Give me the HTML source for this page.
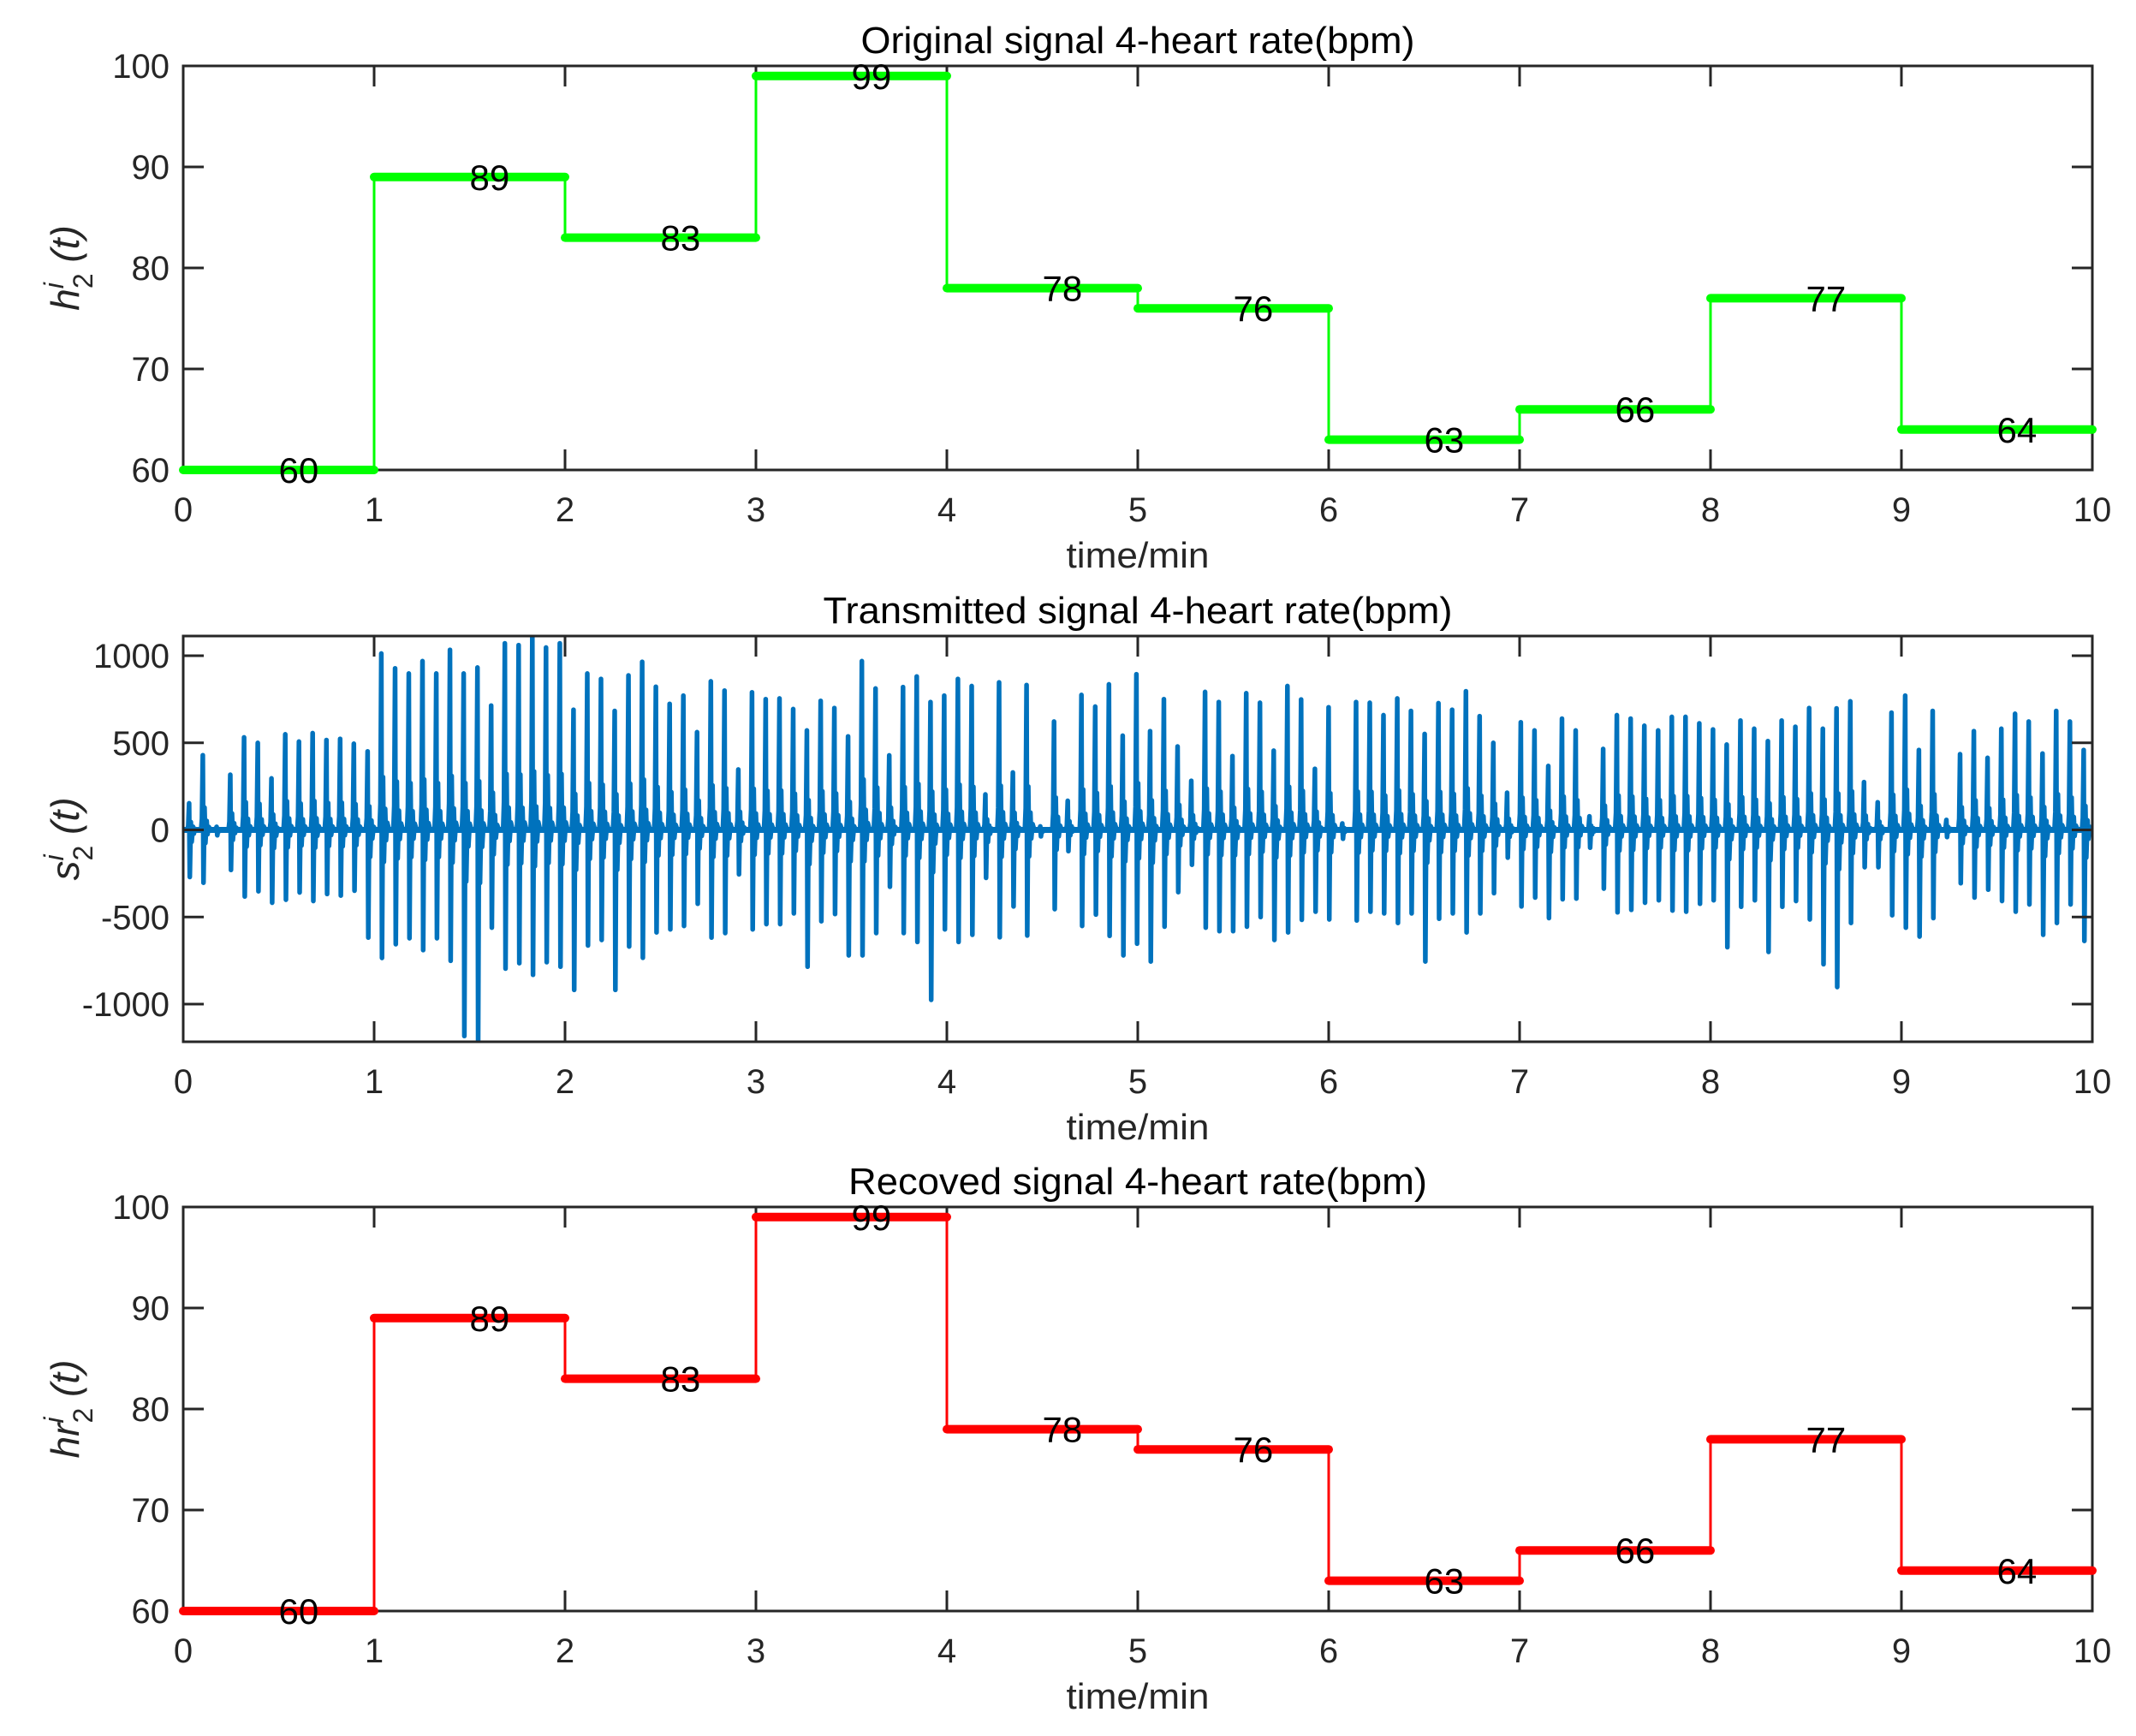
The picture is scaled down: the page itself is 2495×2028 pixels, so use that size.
<!DOCTYPE html>
<html><head><meta charset="utf-8"><style>
html,body{margin:0;padding:0;background:#fff;}
svg{display:block;font-family:"Liberation Sans",Arial,sans-serif;}
</style></head>
<body>
<svg id="fig" xmlns="http://www.w3.org/2000/svg" width="2495" height="2028" viewBox="0 0 2495 2028">
<rect x="0" y="0" width="2495" height="2028" fill="#fff"/>
</svg>
<script>
// ---- data ----
const stepMinutes = [0,1,2,3,4,5,6,7,8,9];
const heartRates = [60,89,83,99,78,76,63,66,77,64];
const recoveredRates = [60,89,83,99,78,76,63,66,77,64];
const xTicks = [0,1,2,3,4,5,6,7,8,9,10];
const hrTicks = [60,70,80,90,100];
const sigTicks = [-1000,-500,0,500,1000];
const beatStart = 0.031;
const beatInterval = 0.07191;
const beatPos = [153,429,18,317,531,500,296,549,507,556,516,523,495,451,1013,928,
898,969,898,1034,898,932,714,1071,1061,1122,1047,1071,690,898,867,683,887,965,822,724,771,561,853,800,347,790,751,755,694,571,741,700,537,969,812,428,820,881,734,771,867,826,204,847,330,832,20,622,
167,775,708,836,541,894,567,751,479,282,792,734,424,785,730,455,826,749,351,704,37,734,730,659,755,683,551,728,690,796,653,500,214,618,571,367,639,571,78,465,659,639,598,571,649,649,612,577,490,628,581,510,628,592,700,581,698,738,275,159,673,771,459,683,57,435,567,414,581,667,622,439,683,622,459];
const beatNeg = [-270,-303,-31,-230,-382,-352,-418,-401,-359,-408,-368,-377,-349,-618,-735,-656,
-622,-690,-622,-751,-1183,-1220,-561,-796,-765,-832,-759,-785,-918,-663,-632,-918,-669,-734,-588,-571,-551,-424,-618,-592,-255,-571,-541,-541,-479,-785,-524,-483,-720,-720,-592,-326,-592,-643,-975,-571,-643,-602,-275,-616,-439,-606,-37,-455,
-122,-551,-486,-608,-720,-653,-755,-555,-357,-200,-561,-581,-581,-555,-500,-632,-588,-516,-469,-514,-51,-520,-469,-479,-534,-479,-755,-510,-479,-588,-479,-363,-159,-439,-388,-506,-398,-394,-102,-337,-473,-459,-418,-404,-463,-469,-424,-404,-673,-441,-404,-700,-441,-408,-514,-771,-902,-534,-214,-214,-490,-561,-612,-506,-41,-306,-388,-343,-408,-469,-428,-602,-534,-428,-637];

// ---- layout ----
const NS = "http://www.w3.org/2000/svg";
const svg = document.getElementById('fig');
const L = 214, R = 2444;
const AX = "#262626";
function el(tag, attrs, parent){
  const e = document.createElementNS(NS, tag);
  for (const k in attrs) e.setAttribute(k, attrs[k]);
  (parent||svg).appendChild(e);
  return e;
}
function xScale(t){ return L + (t/10)*(R-L); }

function makeAxes(name, top, bot, ymin, ymax, yt, title, titleLen, ylabelParts){
  const g = el('g', {});
  
  
  const y = v => bot - (v-ymin)/(ymax-ymin)*(bot-top);
  return {g, y, top, bot, yt, title, titleLen, ylabelParts};
}

function drawFrame(ax){
  const {g, y, top, bot} = ax;
  const frame = el('rect', {x:L, y:top, width:R-L, height:bot-top, fill:'none', stroke:AX, 'stroke-width':3}, g);
  
  
  xTicks.forEach(t=>{
    const x = xScale(t);
    el('line',{x1:x,y1:bot,x2:x,y2:bot-24,stroke:AX,'stroke-width':3},g);
    el('line',{x1:x,y1:top,x2:x,y2:top+24,stroke:AX,'stroke-width':3},g);
    const tx = el('text',{x:x,y:bot+60,'font-size':40,fill:AX,'text-anchor':'middle'},g);
    tx.textContent = String(t);
    
    
  });
  ax.yt.forEach(v=>{
    const yy = y(v);
    el('line',{x1:L,y1:yy,x2:L+24,y2:yy,stroke:AX,'stroke-width':3},g);
    el('line',{x1:R,y1:yy,x2:R-24,y2:yy,stroke:AX,'stroke-width':3},g);
    const tx = el('text',{x:L-16,y:yy+14,'font-size':40,fill:AX,'text-anchor':'end'},g);
    tx.textContent = String(v);
    
    
  });
  const ti = el('text',{x:1329,y:top-15,'font-size':44,fill:'#000','text-anchor':'middle',textLength:ax.titleLen,lengthAdjust:'spacingAndGlyphs'},g);
  ti.textContent = ax.title;
  
  
  const xl = el('text',{x:1329,y:bot+114,'font-size':42,fill:AX,'text-anchor':'middle',textLength:167,lengthAdjust:'spacingAndGlyphs'},g);
  xl.textContent = 'time/min';
  
  
  const cy = (top+bot)/2;
  const yl = el('text',{x:0,y:0,'font-size':46,fill:AX,'text-anchor':'middle',transform:`translate(92,${cy}) rotate(-90)`},g);
  
  
  const p = ax.ylabelParts;
  const a = el('tspan',{'font-style':'italic'},yl); a.textContent = p;
  const b = el('tspan',{'font-style':'italic','font-size':32,dy:-18}, yl); b.textContent = 'i';
  const c = el('tspan',{'font-size':32,dx:-7,dy:34}, yl); c.textContent = '2';
  const d = el('tspan',{dy:-16,'font-style':'italic'}, yl); d.textContent = ' (t)';
}

function drawSteps(ax, vals, color, name){
  const {g, y} = ax;
  const sg = el('g',{},g);
  
  
  for (let i=1;i<stepMinutes.length;i++){
    const vl = el('line',{x1:xScale(stepMinutes[i]),x2:xScale(stepMinutes[i]),y1:y(vals[i-1]),y2:y(vals[i]),stroke:color,'stroke-width':3},sg);
    
    
  }
  for (let i=0;i<stepMinutes.length;i++){
    const x1 = xScale(stepMinutes[i]), x2 = xScale(stepMinutes[i]+1);
    const hl = el('line',{x1:x1,x2:x2,y1:y(vals[i]),y2:y(vals[i]),stroke:color,'stroke-width':10,'stroke-linecap':'round'},sg);
    
    
  }
  for (let i=0;i<stepMinutes.length;i++){
    const lb = el('text',{x:xScale(stepMinutes[i]+0.5),y:y(vals[i])+15,'font-size':42,fill:'#000'},sg);
    lb.textContent = String(vals[i]);
    
    
  }
}

// top
const ax1 = makeAxes('original-signal-plot', 77, 549, 60, 100, hrTicks, 'Original signal 4-heart rate(bpm)', 647, 'h');
drawFrame(ax1);
drawSteps(ax1, heartRates, '#00ff00', 'original-heart-rate-line');

// middle
const ax2 = makeAxes('transmitted-signal-plot', 743, 1217, -1216, 1113, sigTicks, 'Transmitted signal 4-heart rate(bpm)', 735, 's');
(function(){
  const {g, y} = ax2;
  const px = 1/223;
  let pts = [[0,0]];
  for (let i=0;i<beatPos.length;i++){
    const t = beatStart + i*beatInterval;
    const p = beatPos[i], n = beatNeg[i];
    pts.push([t-2*px,0],[t-1*px,p*0.15],[t,p],[t+0.8*px,n],[t+2*px,p*0.3],[t+3*px,n*0.25],[t+4.5*px,p*0.12],[t+5.5*px,n*0.08],[t+7*px,p*0.04],[t+9*px,0]);
  }
  pts.push([10,0]);
  const d = pts.map((q,k)=>(k?'L':'M')+xScale(q[0]).toFixed(1)+' '+y(q[1]).toFixed(1)).join(' ');
  const cp = el('clipPath',{id:'clip2'},g);
  el('rect',{x:L,y:743,width:R-L,height:1217-743},cp);
  const path = el('path',{d:d,fill:'none',stroke:'#0072bd','stroke-width':5.5,'stroke-linejoin':'round','clip-path':'url(#clip2)'},g);
  
  
  el('line',{x1:L,x2:R,y1:y(0),y2:y(0),stroke:'#0072bd','stroke-width':7},g);
})();
drawFrame(ax2);

// bottom
const ax3 = makeAxes('recovered-signal-plot', 1410, 1882, 60, 100, hrTicks, 'Recoved signal 4-heart rate(bpm)', 676, 'hr');
drawFrame(ax3);
drawSteps(ax3, recoveredRates, '#ff0000', 'recovered-heart-rate-line');
</script>
</body></html>
